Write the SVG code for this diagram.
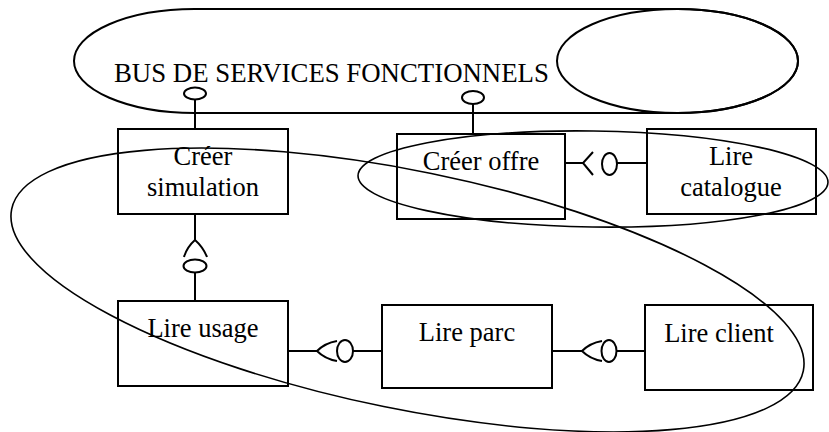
<svg xmlns="http://www.w3.org/2000/svg" width="829" height="432" viewBox="0 0 829 432">
<style>
.box{fill:none;stroke:#000;stroke-width:2}
.ln{fill:none;stroke:#000;stroke-width:2}
.thin{fill:none;stroke:#000;stroke-width:1.6}
.t{font-family:"Liberation Serif","Times New Roman",serif;font-size:26.5px;fill:#000;text-anchor:middle}
</style>
<rect width="829" height="432" fill="#fff"/>
<g id="bus">
<path class="ln" d="M194.5,9 L677.5,9 A120.5,52 0 0 1 677.5,113 L194.5,113 A120.5,52 0 0 1 194.5,9 Z"/>
<ellipse class="ln" cx="677.5" cy="61" rx="120.5" ry="52"/>
<text class="t" x="114" y="82" style="text-anchor:start;font-size:26.8px">BUS DE SERVICES FONCTIONNELS</text>
</g>
<g id="creer-simulation">
<rect class="box" x="118" y="129" width="170" height="85"/>
<text class="t" x="203" y="165">Créer</text>
<text class="t" x="203" y="196">simulation</text>
</g>
<g id="creer-offre">
<rect class="box" x="397" y="134" width="168" height="85"/>
<text class="t" x="481" y="170">Créer offre</text>
</g>
<g id="lire-catalogue">
<rect class="box" x="647" y="129" width="169" height="85"/>
<text class="t" x="731" y="165">Lire</text>
<text class="t" x="731" y="196">catalogue</text>
</g>
<g id="lire-usage">
<rect class="box" x="118" y="301" width="170" height="85"/>
<text class="t" x="203" y="337">Lire usage</text>
</g>
<g id="lire-parc">
<rect class="box" x="382" y="305" width="170" height="83"/>
<text class="t" x="467" y="341">Lire parc</text>
</g>
<g id="lire-client">
<rect class="box" x="645" y="305" width="168" height="85"/>
<text class="t" x="719" y="342">Lire client</text>
</g>
<g id="connectors">
<line class="ln" x1="195" y1="99" x2="195" y2="129"/>
<ellipse class="ln" cx="195" cy="93.5" rx="11" ry="6"/>
<line class="ln" x1="473" y1="104" x2="473" y2="134"/>
<ellipse class="ln" cx="473" cy="97.5" rx="11" ry="6.5"/>
<line class="ln" x1="195" y1="214" x2="195" y2="240"/>
<path class="ln" d="M184,257 Q187,247 195,240 Q203,247 207,257"/>
<ellipse class="ln" cx="195" cy="266" rx="11.5" ry="6.5"/>
<line class="ln" x1="195" y1="272.5" x2="195" y2="301"/>
<line class="ln" x1="565" y1="163" x2="583" y2="163"/>
<path class="ln" d="M593,152 L583,163 L593,175"/>
<ellipse class="ln" cx="609.5" cy="164" rx="7.5" ry="11"/>
<line class="ln" x1="617" y1="163" x2="647" y2="163"/>
<line class="ln" x1="288" y1="351" x2="317" y2="351"/>
<path class="ln" d="M337,341 Q325,343 317,351 Q325,359 337,361"/>
<ellipse class="ln" cx="345" cy="351" rx="8" ry="11"/>
<line class="ln" x1="353" y1="351" x2="382" y2="351"/>
<line class="ln" x1="552" y1="351" x2="582" y2="351"/>
<path class="ln" d="M602,341 Q590,343 582,351 Q590,359 602,361"/>
<ellipse class="ln" cx="609" cy="351" rx="7.5" ry="11"/>
<line class="ln" x1="616.5" y1="351" x2="645" y2="351"/>
</g>
<g id="groupings">
<ellipse class="thin" cx="407.5" cy="290" rx="404" ry="119" transform="rotate(11.55 407.5 290)"/>
<ellipse class="thin" cx="593" cy="179" rx="235" ry="48" transform="rotate(0.8 593 179)"/>
</g>
</svg>
